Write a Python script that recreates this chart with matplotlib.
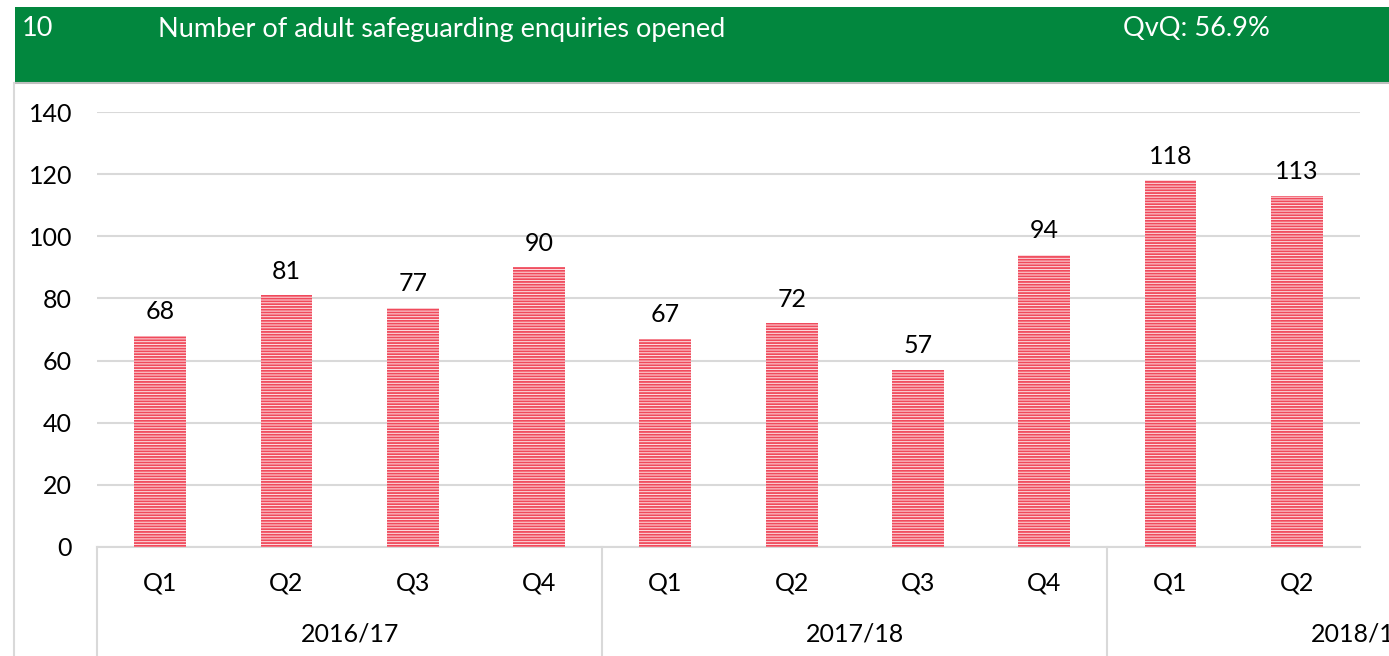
import matplotlib
matplotlib.use("Agg")
import matplotlib.pyplot as plt
from matplotlib.lines import Line2D
import matplotlib.transforms as mtransforms

# data
quarters = ["Q1", "Q2", "Q3", "Q4", "Q1", "Q2", "Q3", "Q4", "Q1", "Q2"]
enquiries = [68, 81, 77, 90, 67, 72, 57, 94, 118, 113]
years = ["2016/17", "2017/18", "2018/19"]
year_centres = [1.5, 5.5, 9.5]
year_edges = [-0.5, 3.5, 7.5]
yticks = [0, 20, 40, 60, 80, 100, 120, 140]

plt.rcParams['font.family'] = ['Lato', 'DejaVu Sans']
plt.rcParams['hatch.linewidth'] = 1.3

W, H = 1389, 656
fig = plt.figure(figsize=(W / 100, H / 100), dpi=100)
fig.patch.set_facecolor("white")

def fx(px):
    return px / W

def fy(py):
    return 1 - py / H

FS = 19

# green header
fig.patches.append(plt.Rectangle((fx(15), fy(82)), fx(W - 15), 75 / H,
                                 transform=fig.transFigure, facecolor="#02873e",
                                 edgecolor="none"))
fig.add_artist(Line2D([fx(15), 1], [fy(83), fy(83)], color="#bfbfbf", lw=1.5))
fig.add_artist(Line2D([fx(14), fx(14)], [fy(83), 0], color="#d9d9d9", lw=1.5))
fig.text(fx(22), fy(29), "10", color="white", fontsize=FS + 0.5, va="center")
fig.text(fx(158), fy(29), "Number of adult safeguarding enquiries opened",
         color="white", fontsize=FS + 0.5, va="center")
fig.text(fx(1123), fy(29), "QvQ: 56.9%", color="white", fontsize=FS + 0.5, va="center")

ax = fig.add_axes([fx(97), fy(547), fx(1360 - 97), (547 - 112) / H])
x = list(range(len(enquiries)))
bars = ax.bar(x, enquiries, width=0.41, color="#fde3e6", edgecolor="#f04a5c",
              hatch="------", linewidth=0, zorder=3)
for xi, v in zip(x, enquiries):
    ax.annotate(str(v), (xi, v), xytext=(0, 9), textcoords="offset points",
                ha="center", va="bottom", fontsize=FS - 1, color="black")

ax.set_xlim(-0.5, 9.5)
ax.set_ylim(0, 140)
ax.set_yticks(yticks)
ax.set_yticklabels([str(t) for t in yticks], fontsize=FS - 1)
ax.yaxis.grid(True, color="#d9d9d9", lw=1.5, zorder=0)
ax.tick_params(axis="y", length=0, pad=18)
ax.set_xticks([])
for s in ["top", "right", "left"]:
    ax.spines[s].set_visible(False)
ax.spines["bottom"].set_color("#d9d9d9")
ax.spines["bottom"].set_linewidth(1.5)

trans = mtransforms.blended_transform_factory(ax.transData, fig.transFigure)
for xi, q in zip(x, quarters):
    fig.text(xi, fy(583), q, transform=trans, ha="center", va="center", fontsize=FS - 1)
for xc, yr in zip(year_centres, years):
    fig.text(xc, fy(634), yr, transform=trans, ha="center", va="center", fontsize=FS - 1)
for xe in year_edges:
    fig.add_artist(Line2D([xe, xe], [fy(547), 0], transform=trans,
                          color="#d9d9d9", lw=1.5))

fig.savefig("out.png", dpi=100)
